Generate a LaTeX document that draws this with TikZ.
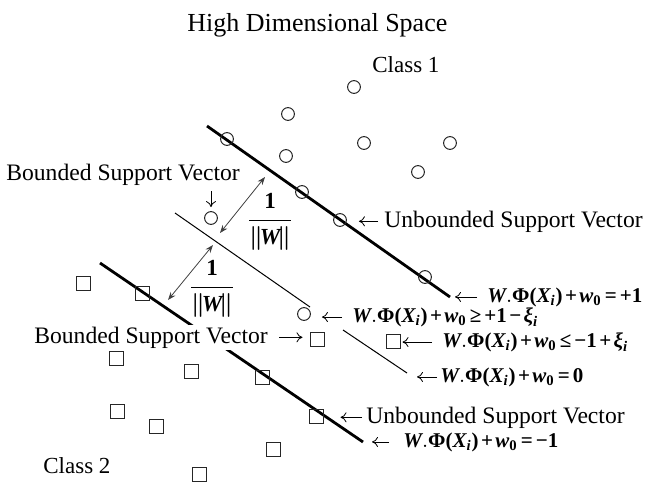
\documentclass[tikz,border=0pt]{standalone}
\usepackage{fontspec}
\setmainfont{Liberation Serif}
\usepackage{amsmath}
\usetikzlibrary{arrows.meta}

\newcommand{\bi}[1]{\text{\bfseries\itshape #1}}
\newcommand{\bu}[1]{\text{\bfseries #1}}
\newcommand{\bplus}{\mathbin{\bu{+}}}
\newcommand{\bminus}{\mathbin{\bu{−}}}
\newcommand{\brel}[1]{\mathrel{\bu{#1}}}
\newcommand{\wphi}[1]{{\medmuskip=2mu\thickmuskip=2.5mu$\bi{W}.\bu{Φ(}\bi{X}_{\bi{i}}\bu{)}\bplus\bi{w}_{\bu{0}}#1$}}
\newcommand{\invw}{{\boldmath$\dfrac{\bu{1}}{\|\mkern-2mu\bi{W}\mkern-2mu\|}$}}

\tikzset{
    pos1/.style={circle,draw=black!85,line width=0.5pt,minimum size=6.4pt,inner sep=0pt},
    neg1/.style={rectangle,draw=black!85,line width=0.5pt,minimum size=7pt,inner sep=0pt},
    lbl/.style={font=\fontsize{11.8}{14}\selectfont,inner sep=1pt,fill=white},
    cls/.style={font=\fontsize{11.5}{14}\selectfont,inner sep=1pt},
    eqn/.style={font=\fontsize{10.5}{12}\selectfont,inner sep=1pt},
    ptr/.style={-{To[length=3pt,width=5pt]},line width=0.4pt},
    margin/.style={{Stealth[length=4pt,width=3pt]}-{Stealth[length=4pt,width=3pt]},black!75,line width=0.4pt},
    plane/.style={line width=1.4pt},
}

\begin{document}
\begin{tikzpicture}[x=0.5pt,y=-0.5pt]
    \useasboundingbox (0,0) rectangle (649,482);

    % Hyperplanes
    \coordinate (u1) at (207,126);
    \coordinate (u2) at (450,297);
    \coordinate (m1) at (175,213);
    \coordinate (m2) at (310,307);
    \coordinate (m3) at (343,330);
    \coordinate (m4) at (407,373);
    \coordinate (l1) at (100,263);
    \coordinate (l2) at (363,442);
    \draw[plane] (u1) -- (u2);
    \draw[line width=0.5pt] (m1) -- (m2);
    \draw[line width=0.5pt] (m3) -- (m4);
    \draw[plane] (l1) -- (l2);

    % Titles
    \node[font=\fontsize{13}{15}\selectfont,inner sep=1pt,anchor=base west] (title) at (185,32) {High Dimensional Space};
    \node[cls,anchor=base west] (class1) at (370,72) {Class 1};
    \node[cls,anchor=base west] (class2) at (41,473) {Class 2};

    % Class 1 points
    \node[pos1] (c1) at (354,87) {};
    \node[pos1] (c2) at (288,114) {};
    \node[pos1] (c3) at (227,139) {};
    \node[pos1] (c4) at (364,143) {};
    \node[pos1] (c5) at (450,143) {};
    \node[pos1] (c6) at (286,156) {};
    \node[pos1] (c7) at (418,172) {};
    \node[pos1] (c8) at (302,192) {};
    \node[pos1] (c9) at (340,220) {};
    \node[pos1] (c10) at (425,277) {};
    \node[pos1] (cb) at (211,218) {};
    \node[pos1] (cl) at (304,314) {};

    % Class 2 points
    \node[neg1] (s1) at (83,283) {};
    \node[neg1] (s2) at (142,293) {};
    \node[neg1] (sbv) at (317,339) {};
    \node[neg1] (sq) at (393,341) {};
    \node[neg1] (s3) at (116,358) {};
    \node[neg1] (s4) at (191,371) {};
    \node[neg1] (s5) at (262,377) {};
    \node[neg1] (s6) at (117,411) {};
    \node[neg1] (s7) at (156,426) {};
    \node[neg1] (suv) at (316,416) {};
    \node[neg1] (s8) at (273,449) {};
    \node[neg1] (s9) at (199,474) {};

    % Margins
    \coordinate (a1) at (265,177);
    \coordinate (a2) at (220,233);
    \coordinate (a3) at (213,245);
    \coordinate (a4) at (168,300);
    \draw[margin] (a1) -- (a2);
    \draw[margin] (a3) -- (a4);
    \node[font=\fontsize{11.5}{13}\selectfont,inner sep=0pt] (w1) at (270,222) {\invw};
    \node[font=\fontsize{11.5}{13}\selectfont,inner sep=0pt] (w2) at (212,289) {\invw};

    % Support vector labels
    \node[lbl,anchor=base west] (bsv1) at (4,180) {Bounded Support Vector};
    \draw[ptr,shorten <=2pt,shorten >=2pt] (cb |- bsv1.south) -- (cb.north);
    \node[lbl,anchor=base west] (usv1) at (382,227) {Unbounded Support Vector};
    \draw[ptr,shorten <=2pt,shorten >=6pt] (usv1.west) -- (usv1.west -| c9.east);
    \node[lbl,anchor=base west] (bsv2) at (32,343) {Bounded Support Vector};
    \draw[ptr,shorten <=4.5pt,shorten >=3.5pt] (bsv2.east) -- (bsv2.east -| sbv.west);
    \node[lbl,anchor=base west] (usv2) at (364,423) {Unbounded Support Vector};
    \draw[ptr,shorten <=1pt,shorten >=8.5pt] (usv2.west) -- (usv2.west -| suv.east);

    % Equations
    \node[eqn,anchor=base west] (eq1) at (485,302) {\wphi{\brel{=}\bplus\bu{1}}};
    \draw[ptr,shorten <=4pt,shorten >=2.5pt] (eq1.west) -- (eq1.west -| u2);
    \node[eqn,anchor=base west] (eq2) at (350,322) {\wphi{\brel{≥}\bplus\bu{1}\bminus\bi{ξ}_{\bi{i}}}};
    \draw[ptr,shorten <=4pt,shorten >=5.5pt] (eq2.west) -- (eq2.west -| cl.east);
    \node[eqn,anchor=base west] (eq3) at (440,347) {\wphi{\brel{≤}\bminus\bu{1}\bplus\bi{ξ}_{\bi{i}}}};
    \draw[ptr,shorten <=4pt,shorten >=1pt] (eq3.west) -- (eq3.west -| sq.east);
    \node[eqn,anchor=base west] (eq4) at (438,382) {\wphi{\brel{=}\bu{0}}};
    \draw[ptr,shorten <=0.5pt,shorten >=5pt] (eq4.west) -- (eq4.west -| m4);
    \node[eqn,anchor=base west] (eq5) at (401,447) {\wphi{\brel{=}\bminus\bu{1}}};
    \draw[ptr,shorten <=6pt,shorten >=4.5pt] (eq5.west) -- (eq5.west -| l2);
\end{tikzpicture}
\end{document}
